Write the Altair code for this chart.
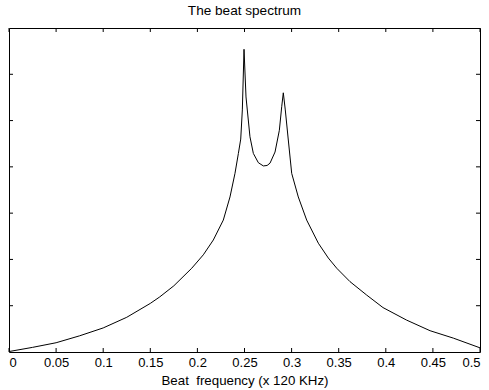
import altair as alt
import pandas as pd

# Beat frequency (x 120 KHz) and spectrum amplitude
freq = [0.0, 0.025, 0.05, 0.075, 0.1, 0.125, 0.15, 0.16, 0.175, 0.194, 0.2063,
        0.2169, 0.2275, 0.2346, 0.2399, 0.2435, 0.246, 0.2477, 0.2495, 0.2516,
        0.2558, 0.2594, 0.2647, 0.27, 0.274, 0.2771, 0.2824, 0.287, 0.2895,
        0.2912, 0.2933, 0.2965, 0.3001, 0.3071, 0.316, 0.3284, 0.339, 0.3479,
        0.362, 0.3797, 0.397, 0.422, 0.447, 0.4717, 0.5]
amp = [0.01, 0.10, 0.20, 0.35, 0.52, 0.75, 1.05, 1.19, 1.43, 1.81, 2.10,
       2.42, 2.85, 3.35, 3.86, 4.29, 4.60, 5.23, 6.54, 5.51,
       4.65, 4.29, 4.09, 4.02, 4.03, 4.08, 4.32, 4.79, 5.30,
       5.60, 5.23, 4.58, 3.86, 3.35, 2.85, 2.35, 2.03, 1.81,
       1.52, 1.23, 0.96, 0.69, 0.46, 0.30, 0.09]

x_ticks = [0, 0.05, 0.1, 0.15, 0.2, 0.25, 0.3, 0.35, 0.4, 0.45, 0.5]
y_ticks = [1, 2, 3, 4, 5, 6]

df = pd.DataFrame({"f": freq, "a": amp})
xt = pd.DataFrame({"t": x_ticks})
yt = pd.DataFrame({"t": y_ticks})

W, H = 471, 324
FONT = "Liberation Sans"

xscale = alt.Scale(domain=[0, 0.5], nice=False, zero=False)
yscale = alt.Scale(domain=[0, 7], nice=False, zero=False)

xaxis = alt.Axis(values=x_ticks, format="~g", ticks=False, domain=False,
                 grid=False, labelPadding=4, labelFontSize=13,
                 labelFont=FONT, labelColor="black",
                 title="Beat\u00a0\u00a0frequency (x 120 KHz)",
                 titleFont=FONT, titleFontSize=13.3, titleFontWeight="normal",
                 titleColor="black", titleBaseline="alphabetic", titleY=32)
yaxis = alt.Axis(labels=False, ticks=False, domain=False, grid=False, title=None)

line = alt.Chart(df).mark_line(color="black", strokeWidth=1).encode(
    x=alt.X("f:Q", scale=xscale, axis=xaxis),
    y=alt.Y("a:Q", scale=yscale, axis=yaxis),
)

tick_style = dict(color="black", strokeWidth=1)

bottom_ticks = alt.Chart(xt).mark_rule(**tick_style).encode(
    x=alt.X("t:Q", scale=xscale, axis=xaxis), y=alt.value(H), y2=alt.value(H - 4))
top_ticks = alt.Chart(xt).mark_rule(**tick_style).encode(
    x=alt.X("t:Q", scale=xscale, axis=xaxis), y=alt.value(0), y2=alt.value(4))
left_ticks = alt.Chart(yt).mark_rule(**tick_style).encode(
    y=alt.Y("t:Q", scale=yscale, axis=yaxis), x=alt.value(0), x2=alt.value(4))
right_ticks = alt.Chart(yt).mark_rule(**tick_style).encode(
    y=alt.Y("t:Q", scale=yscale, axis=yaxis), x=alt.value(W), x2=alt.value(W - 4))

chart = alt.layer(line, bottom_ticks, top_ticks, left_ticks, right_ticks).properties(
    width=W, height=H,
    autosize=alt.AutoSizeParams(type="none"),
    padding={"left": 9, "top": 28, "right": 9, "bottom": 38},
    background="white",
    title=alt.TitleParams("The beat spectrum", font=FONT, fontSize=13.6,
                          fontWeight="normal", color="black", anchor="middle", offset=10),
).configure_view(stroke="black", strokeWidth=1)

chart.save("out.html", embed_options={"renderer": "svg", "actions": False})
